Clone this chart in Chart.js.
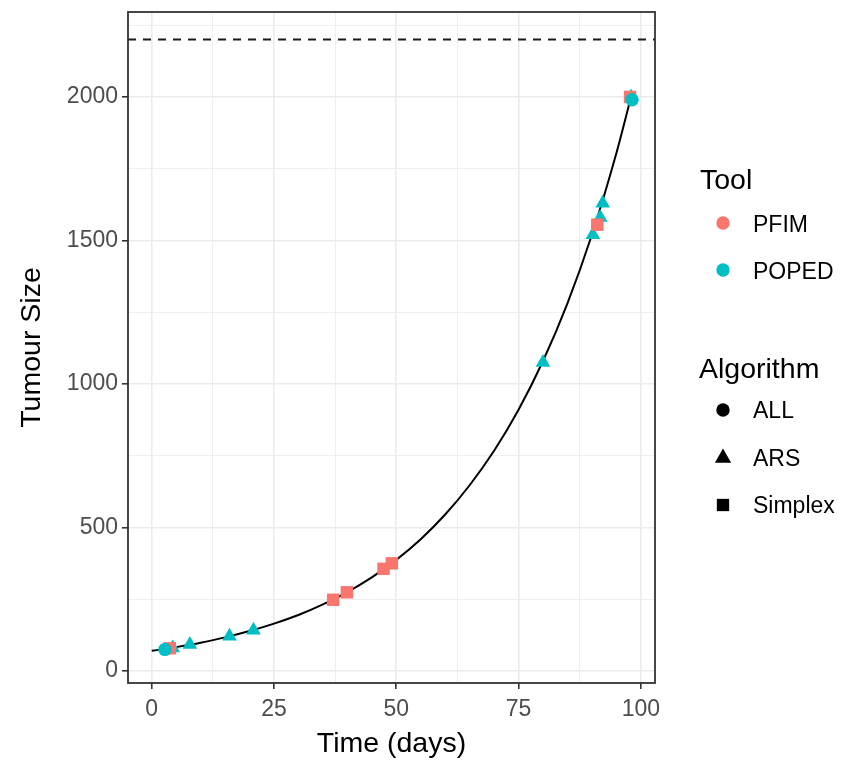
<!DOCTYPE html>
<html>
<head>
<meta charset="utf-8">
<title>Tumour Size</title>
<script src="https://cdn.jsdelivr.net/npm/chart.js@4.4.1/dist/chart.umd.min.js"></script>
<style>
  html, body { margin: 0; padding: 0; background: #fff; }
  #wrap { width: 846px; height: 761px; }
</style>
</head>
<body>
<div id="wrap"><canvas id="chart" width="846" height="761"></canvas></div>
<script>
// model curve, every 5 days
const curveDays = [0, 5, 10, 15, 20, 25, 30, 35, 40, 45, 50, 55, 60, 65, 70, 75, 80, 85, 90, 95, 98];
const curveSize = [70, 83, 98, 117, 139, 165, 195, 232, 275, 326, 387, 459, 545, 647, 767, 910, 1080, 1281, 1520, 1804, 2000];

// design points
const pfimSimplexDays = [3.7, 37.1, 39.9, 47.4, 49.1, 91.1, 97.8];
const pfimSimplexSize = [79, 248, 274, 356, 375, 1555, 2000];

const popedArsDays = [4.3, 7.8, 15.9, 20.8, 80.0, 90.2, 91.7, 92.2, 98.0];
const popedArsSize = [80, 92, 121, 142, 1075, 1520, 1580, 1630, 2000];

const popedAllDays = [2.7, 98.2];
const popedAllSize = [75, 1990];

const threshold = 2200;

const xTicks = [0, 25, 50, 75, 100];
const xMinor = [12.5, 37.5, 62.5, 87.5];
const yTicks = [0, 500, 1000, 1500, 2000];
const yMinor = [250, 750, 1250, 1750, 2250];

const toolNames = ['PFIM', 'POPED'];
const toolColors = ['#F8766D', '#00BFC4'];
const algoNames = ['ALL', 'ARS', 'Simplex'];
const algoStyles = ['circle', 'triangle', 'rect'];

const xMin = -4.85, xMax = 102.9;
const yMin = -42, yMax = 2296;
const FONT = '"Liberation Sans", Arial, sans-serif';

const pts = (xs, ys) => xs.map((x, i) => ({ x: x, y: ys[i] }));

function axisFor(major, minor, min, max) {
  return {
    type: 'linear',
    min: min,
    max: max,
    border: { display: false },
    afterBuildTicks: s => {
      s.ticks = major.concat(minor).sort((a, b) => a - b).map(v => ({ value: v }));
    },
    grid: {
      color: '#EBEBEB',
      lineWidth: c => major.includes(c.tick.value) ? 1.6 : 0.8,
      tickLength: 6,
      tickWidth: 1.6,
      tickColor: c => major.includes(c.tick.value) ? '#333333' : 'rgba(0,0,0,0)'
    },
    ticks: {
      color: '#4D4D4D',
      font: { size: 23, family: FONT },
      padding: 4,
      maxRotation: 0,
      autoSkip: false,
      callback: v => major.includes(v) ? String(v) : ''
    }
  };
}

const xAxis = axisFor(xTicks, xMinor, xMin, xMax);
xAxis.ticks.padding = 7;
xAxis.title = { display: true, text: 'Time (days)', color: '#000', font: { size: 28.5, family: FONT }, padding: { top: 0, bottom: 0 } };
xAxis.afterFit = s => { s.height = 78; s.paddingLeft = 0; s.paddingRight = 0; };

const yAxis = axisFor(yTicks, yMinor, yMin, yMax);
yAxis.title = { display: true, text: 'Tumour Size', color: '#000', font: { size: 28.5, family: FONT }, padding: { top: 15, bottom: 0 } };
yAxis.afterFit = s => { s.width = 128; s.paddingTop = 0; s.paddingBottom = 0; };

// panel border + side legend
const panelPlugin = {
  id: 'panel',
  afterDatasetsDraw(chart) {
    const { ctx, chartArea: a } = chart;
    ctx.save();
    ctx.strokeStyle = '#333333';
    ctx.lineWidth = 1.8;
    ctx.strokeRect(a.left, a.top, a.right - a.left, a.bottom - a.top);
    ctx.restore();
  },
  afterDraw(chart) {
    const ctx = chart.ctx;
    const dp = Chart.helpers.drawPoint;
    ctx.save();
    ctx.fillStyle = '#000';
    ctx.textAlign = 'left';
    ctx.textBaseline = 'alphabetic';
    ctx.font = '28.5px ' + FONT;
    ctx.fillText('Tool', 700, 189);
    ctx.fillText('Algorithm', 699, 378);

    ctx.font = '23px ' + FONT;
    ctx.textBaseline = 'middle';
    const toolRows = [223, 270];
    toolNames.forEach((name, i) => {
      ctx.fillStyle = toolColors[i];
      dp(ctx, { pointStyle: 'circle', radius: 6.7, borderWidth: 0 }, 723, toolRows[i]);
      ctx.fillStyle = '#000';
      ctx.fillText(name, 753, toolRows[i] + 3);
    });
    const algoRows = [410, 458, 505];
    const algoRadius = [6.7, 9.4, 8.7];
    algoNames.forEach((name, i) => {
      ctx.fillStyle = '#000';
      dp(ctx, { pointStyle: algoStyles[i], radius: algoRadius[i], borderWidth: 0 }, 723, algoRows[i]);
      ctx.fillText(name, 753, algoRows[i] + 2);
    });
    ctx.restore();
  }
};

new Chart(document.getElementById('chart'), {
  type: 'scatter',
  data: {
    datasets: [
      {
        label: 'POPED ALL',
        data: pts(popedAllDays, popedAllSize),
        pointStyle: 'circle',
        pointRadius: 6.7,
        backgroundColor: toolColors[1],
        borderWidth: 0,
        order: 0
      },
      {
        label: 'PFIM Simplex',
        data: pts(pfimSimplexDays, pfimSimplexSize),
        pointStyle: 'rect',
        pointRadius: 8.8,
        backgroundColor: toolColors[0],
        borderWidth: 0,
        order: 1
      },
      {
        label: 'POPED ARS',
        data: pts(popedArsDays, popedArsSize),
        pointStyle: 'triangle',
        pointRadius: 8.5,
        backgroundColor: toolColors[1],
        borderWidth: 0,
        order: 2
      },
      {
        label: 'model',
        data: pts(curveDays, curveSize),
        showLine: true,
        borderColor: '#000',
        borderWidth: 2,
        pointRadius: 0,
        cubicInterpolationMode: 'monotone',
        fill: false,
        order: 5
      },
      {
        label: 'threshold',
        data: pts([xMin, xMax], [threshold, threshold]),
        showLine: true,
        borderColor: '#1A1A1A',
        borderWidth: 1.9,
        borderDash: [8, 7],
        pointRadius: 0,
        fill: false,
        order: 6
      }
    ]
  },
  options: {
    responsive: false,
    animation: false,
    devicePixelRatio: 1,
    clip: false,
    layout: { padding: { top: 12, right: 191, left: 0, bottom: 0 } },
    plugins: { legend: { display: false }, tooltip: { enabled: false } },
    scales: { x: xAxis, y: yAxis }
  },
  plugins: [panelPlugin]
});
</script>
</body>
</html>
